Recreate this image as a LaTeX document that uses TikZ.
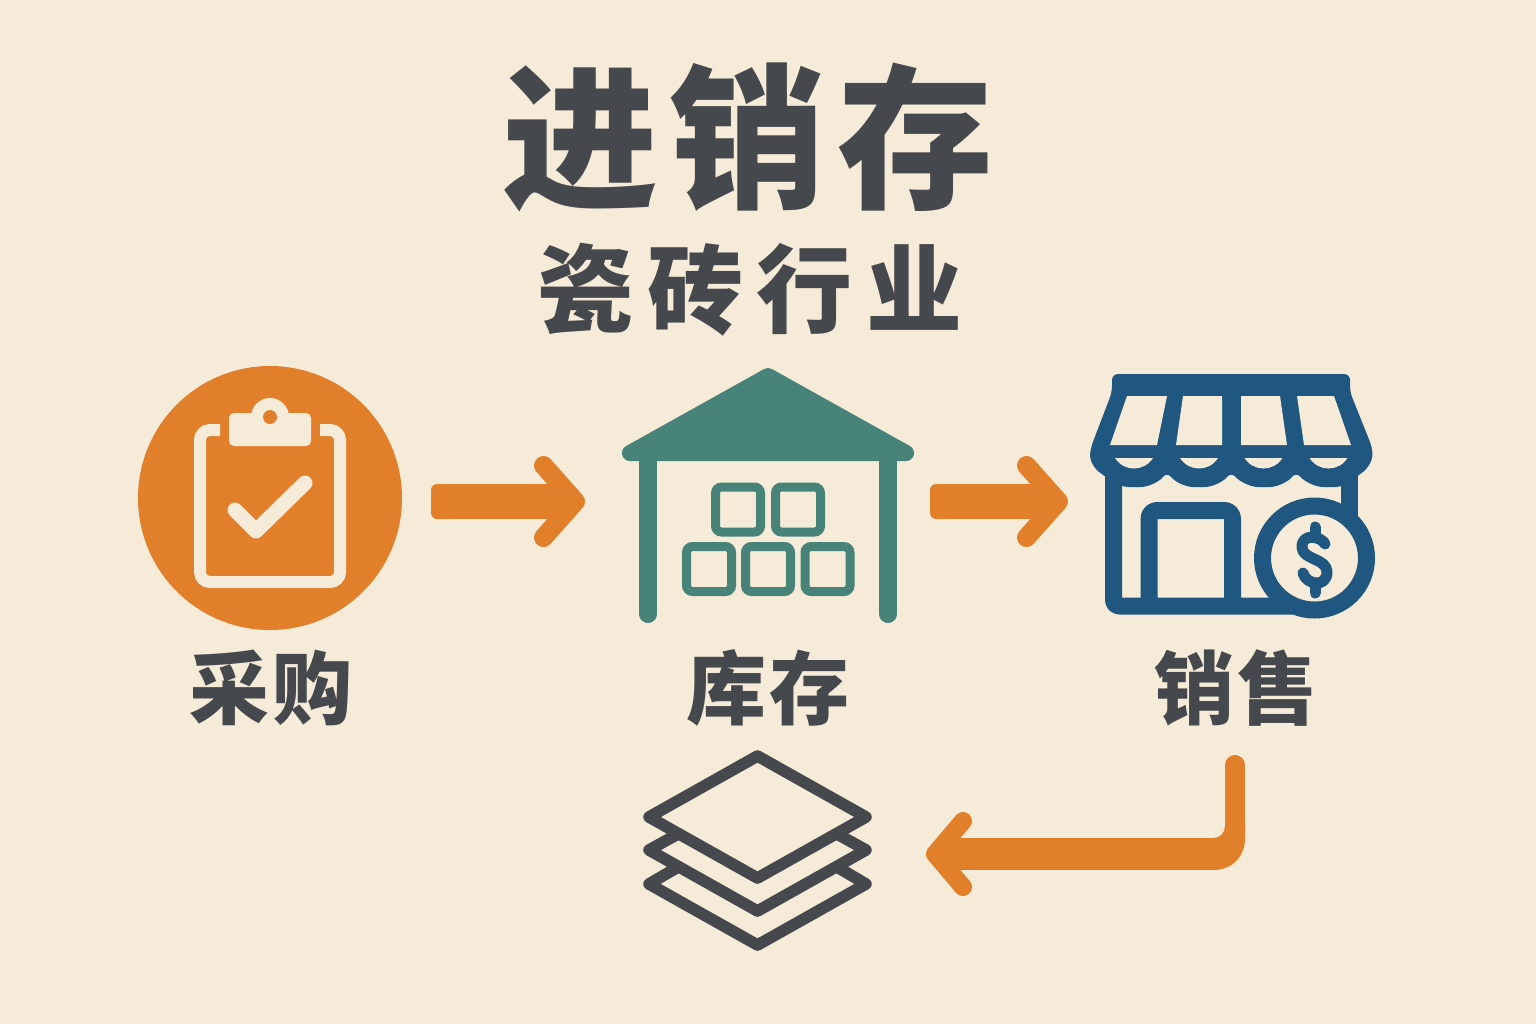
\documentclass[tikz,border=0pt]{standalone}
\usepackage{fontspec}
\usetikzlibrary{arrows.meta}
\newfontfamily\cjk{Noto Sans CJK SC}
\definecolor{paper}{RGB}{246,235,216}
\definecolor{flowcolor}{RGB}{226,127,43}
\definecolor{teal}{RGB}{71,131,120}
\definecolor{shopblue}{RGB}{31,87,128}
\definecolor{ink}{RGB}{69,72,76}
\tikzset{
    every node/.append style={inner sep=0pt, outer sep=0pt},
    title/.style={text=ink, font=\cjk\bfseries\fontsize{78}{78}\selectfont\addfontfeature{LetterSpace=7.5}},
    subtitle/.style={text=ink, font=\cjk\bfseries\fontsize{48}{48}\selectfont\addfontfeature{LetterSpace=14}},
    label/.style={text=ink, font=\cjk\bfseries\fontsize{40}{40}\selectfont\addfontfeature{LetterSpace=4}},
    flow/.style={draw=flowcolor, line width=17.5pt,
        -{Straight Barb[length=16pt,width=36pt,line width=9.5pt,round]}},
    flowbent/.style={draw=flowcolor, line width=16pt,
        -{Straight Barb[length=14pt,width=33pt,line width=9pt,round]}},
    flowtail/.style={fill=flowcolor, rounded corners=3pt, minimum width=12pt, minimum height=17.5pt},
    crate/.style={draw=teal, line width=4.5pt, rounded corners=3pt, minimum size=22.5pt},
    post/.style={draw=teal, line width=9pt, line cap=round},
    shopline/.style={draw=shopblue, line width=8.5pt, line join=round},
    layer/.style={draw=ink, line width=5.8pt, line join=round, line cap=round},
}
\begin{document}
\begin{tikzpicture}[x=.5pt,y=-.5pt]
  \fill[paper] (0,0) rectangle (1536,1024);
  \useasboundingbox (0,0) rectangle (1536,1024);

  % titles
  \node[title] (head) at (748,137) {进销存};
  \node[subtitle] (sub) at (750,290) {瓷砖行业};

  % purchase
  \node[circle, fill=flowcolor, minimum size=132pt] (buy) at (270,498) {};
  \draw[paper, line width=6pt, rounded corners=5pt]
    (220,430) -- (200,430) -- (200,582) -- (340,582) -- (340,430) -- (320,430);
  \fill[paper, rounded corners=2.5pt] (229,413) rectangle (311,446);
  \fill[paper] (270,417) circle (9.5pt);
  \fill[flowcolor] (270,417) circle (3.5pt);
  \draw[paper, line width=7.5pt, line cap=round, line join=round]
    (235,510) -- (256,531) -- (305,483);
  \node[label] (buylabel) at (271,688) {采购};

  % warehouse
  \fill[teal, draw=teal, line width=8pt, line join=round]
    (630,453) -- (768,376) -- (906,453) -- cycle;
  \draw[post] (648,455) -- (648,614);
  \draw[post] (888,455) -- (888,614);
  \node[crate] (boxa) at (738,509.5) {};
  \node[crate] (boxb) at (798,509.5) {};
  \node[crate] (boxc) at (709,569) {};
  \node[crate] (boxd) at (768,569) {};
  \node[crate] (boxe) at (827.5,569) {};
  \node[label] (storelabel) at (768,688) {库存};

  % shop
  \fill[shopblue, rounded corners=3pt] (1112,392) -- (1112,374) -- (1350,374) -- (1350,392)
    -- (1372,447) .. controls (1373,462) and (1366,470) .. (1357,476)
    .. controls (1350,484) and (1340,487) .. (1329,487)
    .. controls (1316,487) and (1305,482) .. (1296,472)
    .. controls (1288,482) and (1277,487) .. (1264,487)
    .. controls (1251,487) and (1240,482) .. (1231,472)
    .. controls (1223,482) and (1212,487) .. (1199,487)
    .. controls (1186,487) and (1175,482) .. (1167,472)
    .. controls (1159,482) and (1148,487) .. (1135,487)
    .. controls (1124,487) and (1113,484) .. (1105,476)
    .. controls (1096,470) and (1089,462) .. (1091,447) -- cycle;
  \fill[paper] (1127,396) -- (1167,396) -- (1157,445) -- (1110,445) -- cycle;
  \fill[paper] (1183,396) -- (1222,396) -- (1222,445) -- (1176,445) -- cycle;
  \fill[paper] (1241,396) -- (1280,396) -- (1287,445) -- (1241,445) -- cycle;
  \fill[paper] (1297,396) -- (1334,396) -- (1351,445) -- (1304,445) -- cycle;
  \foreach \x in {1134,1199,1263.5,1328.5}
    \fill[paper] (\x-19,458) -- (\x+19,458) .. controls (\x+10,472) and (\x-10,472) .. (\x-19,458) -- cycle;
  \draw[shopline] (1349,470) -- (1349,525);
  \draw[shopline, rounded corners=3pt] (1300,606) -- (1113.5,606) -- (1113.5,470);
  \draw[shopline, rounded corners=4pt] (1149,606) -- (1149,510.5) -- (1232.5,510.5) -- (1232.5,606);
  \node[circle, draw=shopblue, fill=paper, line width=8.5pt, minimum size=52pt] (coin) at (1314.5,558) {};
  \draw[shopblue, line width=5.5pt, line cap=round, line join=round]
    (1325,544) .. controls (1322,537) and (1302,532) .. (1302,547)
    .. controls (1302,560) and (1327,558) .. (1327,572)
    .. controls (1327,588) and (1306,585) .. (1303,573);
  \draw[shopblue, line width=5.5pt, line cap=round] (1315,527) -- (1315,535);
  \draw[shopblue, line width=5.5pt, line cap=round] (1315,585) -- (1315,593);
  \node[label] (shoplabel) at (1236,688) {销售};

  % tile layers
  \draw[layer] (757.5,756) -- (866,817) -- (757.5,878) -- (649,817) -- cycle;
  \draw[layer] (678,834) -- (649,850) -- (757.5,911) -- (866,850) -- (837,834);
  \draw[layer] (678,867) -- (649,884) -- (757.5,945) -- (866,884) -- (837,867);

  % coordinates
  \node[flowtail] (buyout) at (443,501.5) {};
  \coordinate (storein) at (585,501.5);
  \node[flowtail] (storeout) at (942,501.5) {};
  \coordinate (shopin) at (1068,501.5);
  \coordinate (shopdown) at (1235,765);
  \coordinate (bendtop) at (1235,826);
  \coordinate (bendleft) at (1215,854);
  \coordinate (tilesin) at (926,854);

  % arrows
  \draw[flow] (buyout.center) -- (storein);
  \draw[flow] (storeout.center) -- (shopin);
  \draw[flowcolor, line width=10pt, line cap=round] (shopdown) -- (bendtop);
  \fill[flowcolor] (1225,820) -- (1225,826) .. controls (1225,833) and (1220,838) .. (1213,838)
    -- (1213,870) .. controls (1232,870) and (1245,857) .. (1245,838) -- (1245,820) -- cycle;
  \draw[flowbent] (bendleft) -- (tilesin);
\end{tikzpicture}
\end{document}
